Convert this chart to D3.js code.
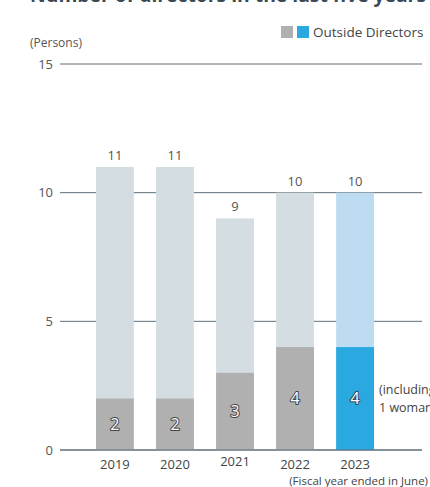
<!DOCTYPE html>
<html>
<head>
<meta charset="utf-8">
<script src="https://cdn.jsdelivr.net/npm/d3@7"></script>
<style>
  body { margin: 0; background: #fff; }
  text { font-family: "Open Sans", "Noto Sans", sans-serif; }
</style>
</head>
<body>
<svg id="chart"></svg>
<script>
// data
const years = ["2019", "2020", "2021", "2022", "2023"];
const totalDirectors = [11, 11, 9, 10, 10];
const outsideDirectors = [2, 2, 3, 4, 4];
const yTicks = [0, 5, 10, 15];

const width = 430, height = 487;
const margin = { top: 64, right: 8, bottom: 37, left: 60 };

const svg = d3.select("#chart")
  .attr("width", width)
  .attr("height", height);

// title, mostly cut off at the top edge
svg.append("text")
  .attr("x", 30).attr("y", 2)
  .attr("font-size", 20).attr("font-weight", "bold")
  .attr("fill", "#3b4956")
  .attr("textLength", 396).attr("lengthAdjust", "spacingAndGlyphs")
  .text("Number of directors in the last five years");

const y = d3.scaleLinear()
  .domain([0, 15])
  .range([height - margin.bottom, margin.top]);

const x = d3.scaleBand()
  .domain(years)
  .range([84, 386])
  .paddingInner(0.37)
  .paddingOuter(0.2);

// grid lines + tick labels
const grid = svg.append("g");
grid.selectAll("line")
  .data(yTicks)
  .join("line")
  .attr("x1", margin.left).attr("x2", width - margin.right)
  .attr("y1", d => y(d)).attr("y2", d => y(d))
  .attr("stroke", "#5e6f7a").attr("stroke-width", 1);
grid.selectAll("text")
  .data(yTicks)
  .join("text")
  .attr("x", 53).attr("y", d => y(d))
  .attr("dy", "0.35em")
  .attr("text-anchor", "end")
  .attr("font-size", 13)
  .attr("fill", "#555")
  .text(d => d);

svg.append("text")
  .attr("x", 30).attr("y", 47)
  .attr("font-size", 12).attr("fill", "#555")
  .text("(Persons)");

// bars
const rows = years.map((yr, i) => ({
  year: yr, total: totalDirectors[i], outside: outsideDirectors[i], last: i === years.length - 1
}));

const bars = svg.append("g");
bars.selectAll("rect.total")
  .data(rows)
  .join("rect")
  .attr("class", "total")
  .attr("x", d => x(d.year))
  .attr("width", x.bandwidth())
  .attr("y", d => y(d.total))
  .attr("height", d => y(0) - y(d.total))
  .attr("fill", d => d.last ? "#bddcf1" : "#d4dde2");

bars.selectAll("rect.outside")
  .data(rows)
  .join("rect")
  .attr("class", "outside")
  .attr("x", d => x(d.year))
  .attr("width", x.bandwidth())
  .attr("y", d => y(d.outside))
  .attr("height", d => y(0) - y(d.outside))
  .attr("fill", d => d.last ? "#29a9e0" : "#b0b0b0");

// redraw baseline over bars
svg.append("line")
  .attr("x1", margin.left).attr("x2", width - margin.right)
  .attr("y1", y(0)).attr("y2", y(0))
  .attr("stroke", "#5e6f7a");

// total labels
svg.selectAll("text.total")
  .data(rows)
  .join("text")
  .attr("class", "total")
  .attr("x", d => x(d.year) + x.bandwidth() / 2)
  .attr("y", d => y(d.total) - 7)
  .attr("text-anchor", "middle")
  .attr("font-size", 13)
  .attr("fill", "#555")
  .text(d => d.total);

// outside labels, white with dark outline
svg.selectAll("text.outside")
  .data(rows)
  .join("text")
  .attr("class", "outside")
  .attr("x", d => x(d.year) + x.bandwidth() / 2)
  .attr("y", d => (y(d.outside) + y(0)) / 2)
  .attr("dy", "0.36em")
  .attr("text-anchor", "middle")
  .attr("font-size", 16)
  .attr("fill", "#fff")
  .attr("stroke", "#444")
  .attr("stroke-width", 2)
  .attr("paint-order", "stroke")
  .attr("stroke-linejoin", "round")
  .text(d => d.outside);

// year labels
svg.selectAll("text.year")
  .data(rows)
  .join("text")
  .attr("class", "year")
  .attr("x", d => x(d.year) + x.bandwidth() / 2)
  .attr("y", d => d.year === "2021" ? 466 : 469)
  .attr("text-anchor", "middle")
  .attr("font-size", 13)
  .attr("fill", "#444")
  .text(d => d.year);

svg.append("text")
  .attr("x", 428).attr("y", 485)
  .attr("text-anchor", "end")
  .attr("font-size", 11.5).attr("fill", "#444")
  .text("(Fiscal year ended in June)");

// note beside 2023 bar
const note = svg.append("text")
  .attr("x", 379).attr("font-size", 12.5).attr("fill", "#444");
note.append("tspan").attr("x", 379).attr("y", 394).text("(including");
note.append("tspan").attr("x", 379).attr("y", 412).text("1 woman)");

// legend
const legend = svg.append("g");
legend.append("rect").attr("x", 281).attr("y", 26).attr("width", 12).attr("height", 12).attr("fill", "#b0b0b0");
legend.append("rect").attr("x", 297).attr("y", 26).attr("width", 12).attr("height", 12).attr("fill", "#29a9e0");
legend.append("text")
  .attr("x", 313).attr("y", 32).attr("dy", "0.35em")
  .attr("font-size", 13.5).attr("fill", "#444")
  .text("Outside Directors");
</script>
</body>
</html>
